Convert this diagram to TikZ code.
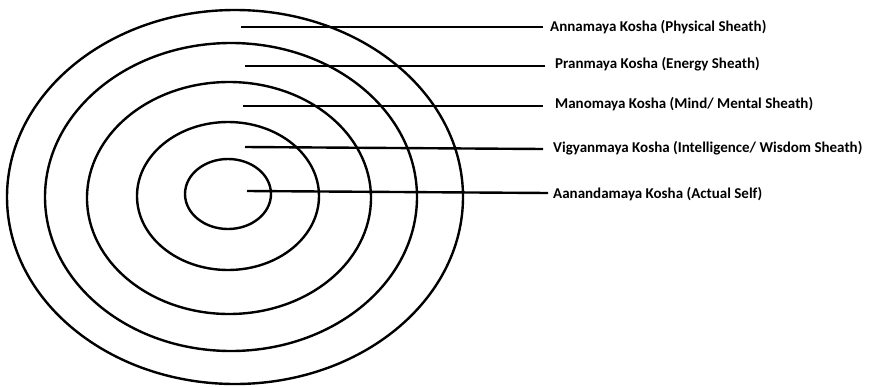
\documentclass[tikz,border=0pt]{standalone}
\usepackage{fontspec}
\setmainfont{Carlito}
\begin{document}
\begin{tikzpicture}[x=1pt,y=-1pt,
  ring/.style={line width=2.4pt},
  leader/.style={line width=2.4pt},
  lbl/.style={anchor=west,inner sep=0pt,font=\bfseries\fontsize{15}{17}\selectfont}]
\useasboundingbox (0,0) rectangle (884,386);
\draw[ring] (235,197) ellipse [x radius=228, y radius=187];
\draw[ring] (231,197) ellipse [x radius=186, y radius=154];
\draw[ring] (229,198) ellipse [x radius=142, y radius=116];
\draw[ring] (228,196) ellipse [x radius=91, y radius=74];
\draw[ring] (228,194) ellipse [x radius=43, y radius=35];
\coordinate (s1) at (241,27);
\coordinate (s2) at (245,66);
\coordinate (s3) at (243,106);
\coordinate (s4) at (245,147);
\coordinate (s5) at (247,191);
\node[lbl] (l1) at (550,27) {Annamaya Kosha (Physical Sheath)};
\node[lbl] (l2) at (555,64) {Pranmaya Kosha (Energy Sheath)};
\node[lbl] (l3) at (555,104) {Manomaya Kosha (Mind/ Mental Sheath)};
\node[lbl] (l4) at (553,148) {Vigyanmaya Kosha (Intelligence/ Wisdom Sheath)};
\node[lbl] (l5) at (553,194) {Aanandamaya Kosha (Actual Self)};
\draw[leader] (s1) -- ([xshift=-7pt]l1.west |- s1);
\draw[leader] (s2) -- ([xshift=-10pt]l2.west |- s2);
\draw[leader] (s3) -- ([xshift=-12pt]l3.west |- s3);
\draw[leader] (s4) -- ([xshift=-10pt,yshift=-2pt]l4.west |- s4);
\draw[leader] (s5) -- ([xshift=-5pt,yshift=-2pt]l5.west |- s5);
\end{tikzpicture}
\end{document}
